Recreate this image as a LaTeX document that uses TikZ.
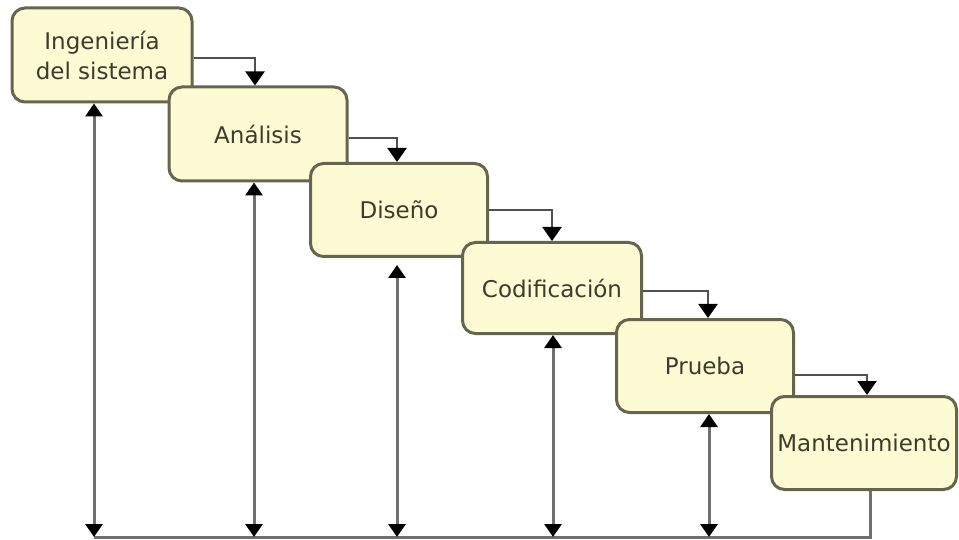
\documentclass[tikz,border=0pt]{standalone}
\usepackage{fontspec}
\setmainfont{DejaVu Sans}
\usetikzlibrary{arrows.meta,calc}
\definecolor{boxfill}{HTML}{FDFBD4}
\definecolor{boxline}{HTML}{66664E}
\definecolor{txt}{HTML}{3C3C2C}
\definecolor{fwd}{HTML}{505050}
\definecolor{fbk}{HTML}{707070}
\tikzset{
  phase/.style={draw=boxline, line width=3pt, fill=boxfill, rounded corners=13pt,
    text=txt, font=\fontsize{23}{30}\selectfont, align=center, inner sep=0pt},
  fwdline/.style={draw=fwd, line width=2.2pt, -{Triangle[length=14pt,width=19pt,color=black]}},
  fbline/.style={draw=fbk, line width=3pt, {Triangle[length=13pt,width=17pt,color=black]}-{Triangle[length=13pt,width=17pt,color=black]}},
  baseline/.style={draw=fbk, line width=3pt}
}
\begin{document}
\begin{tikzpicture}[x=1pt,y=-1pt]
\useasboundingbox[fill=white] (0,0) rectangle (959,540);
\node[phase, minimum width=180pt, minimum height=94pt] (b1) at (102,55) {Ingeniería\\del sistema};
\node[phase, minimum width=178pt, minimum height=94pt] (b2) at (258,134) {Análisis};
\node[phase, minimum width=177pt, minimum height=93pt] (b3) at (399,210) {Diseño};
\node[phase, minimum width=179pt, minimum height=91pt] (b4) at (552,288) {Codificación};
\node[phase, minimum width=177pt, minimum height=93pt] (b5) at (705,366) {Prueba};
\node[phase, minimum width=185pt, minimum height=93pt] (b6) at (864,443) {Mantenimiento};
% forward connectors
\draw[fwdline] ([yshift=-3pt]b1.east) -| ([xshift=-3pt]b2.north);
\draw[fwdline] ([yshift=-4pt]b2.east) -| ([xshift=-2pt]b3.north);
\draw[fwdline] (b3.east) -| (b4.north);
\draw[fwdline] ([yshift=-3pt]b4.east) -| ([xshift=3pt]b5.north);
\draw[fwdline] ([yshift=-9pt]b5.east) -| ([xshift=3pt]b6.north);
% base line
\coordinate (base) at (94,537);
\draw[baseline] ([xshift=6pt]b6.south) |- (base);
% feedback lines
\draw[fbline] ([xshift=-8pt]b1.south) -- ([xshift=-8pt]b1.south |- base);
\draw[fbline] ([xshift=-4pt]b2.south) -- ([xshift=-4pt]b2.south |- base);
\draw[fbline, shorten <=7pt] ([xshift=-2pt]b3.south) -- ([xshift=-2pt]b3.south |- base);
\draw[fbline] ([xshift=1pt]b4.south) -- ([xshift=1pt]b4.south |- base);
\draw[fbline] ([xshift=4pt]b5.south) -- ([xshift=4pt]b5.south |- base);
\end{tikzpicture}
\end{document}
